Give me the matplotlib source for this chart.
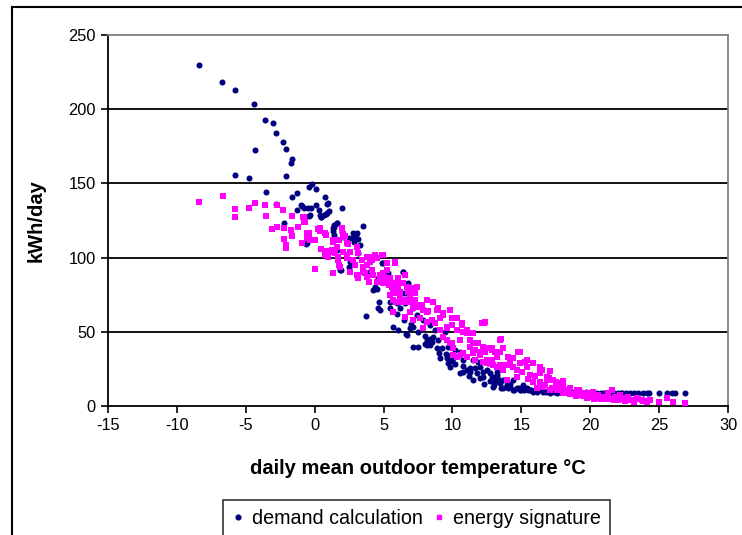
import matplotlib
matplotlib.use("Agg")
import matplotlib.pyplot as plt
from matplotlib.lines import Line2D

plt.rcParams['font.family'] = ['Liberation Sans', 'DejaVu Sans']
plt.rcParams['axes.unicode_minus'] = False

# ---------------- data ----------------
# demand calculation: daily mean outdoor temperature (°C), kWh/day
demand_temp = [
    -8.4, -6.7, -5.8, -4.4, -3.6, -3.05, -2.8, -2.3, -2.1, -4.3, -1.65, -1.75,
    -5.8, -4.8, -2.1, -0.2, -0.4, 0.07, -3.5, -1.26, -1.65, 0.73, 0.91, -0.97,
    -2.8, -0.78, -0.51, -0.27, 0.07, -1.26, 0.33, 1.04, 0.84, -0.39, 0.44,
    -2.23, 1.4, -0.61, 1.4,
    1.96, -0.9, 0.87, 0.46, 0.7, 1.64, 1.42, 1.35, 1.3, 3.53, 1.96, 2.08, 2.8,
    3.0, 2.7, 2.5, 3.16, 2.87, 3.12, 1.89, 2.68, 2.51, 3.48, 3.77, 4.0, 4.6,
    4.93, 4.37, 4.5, 4.25, 5.03, 5.46, 5.7, 6.43, 6.75, 6.92, 6.55, 6.19, 4.69,
    4.62, 3.7, 1.59, 3.05, 0.99, 0.38, -0.34, 2.08, 2.92, 3.29, -0.58, 1.59,
    2.56, 1.84,
    4.86, 5.34, 6.43, 6.8, 6.31, 6.8, 5.95, 6.55, 5.46, 4.74, 6.19, 7.16, 7.4,
    7.88, 8.37, 8.73, 9.46, 5.71, 6.07, 6.63, 6.92, 7.16, 8.13, 8.37, 8.61,
    7.16, 7.52, 8.13, 8.37, 9.21, 9.7, 10.18, 8.97, 9.09, 9.58, 9.94, 10.55,
    10.79, 9.82, 10.55, 10.79, 9.58, 9.7, 8.85, 8.0, 5.83, 6.67,
    10.54, 11.03, 11.27, 11.51, 11.87, 11.63, 11.51, 11.99, 12.24, 12.48, 12.84,
    12.96, 13.08, 13.45, 13.69, 13.93, 14.17, 14.41, 14.66, 14.9, 15.14, 15.38,
    15.62, 16.11, 16.59, 17.08, 17.56, 12.6, 13.2, 11.27, 11.99, 12.24, 12.72,
    12.96, 13.2, 13.69, 14.41, 15.87,
    16.3, 16.8, 17.3, 17.8, 18.1, 18.4, 18.7, 19.0, 19.3, 19.6, 19.9, 20.2,
    20.5, 20.8, 21.1, 21.4, 21.7, 22.0, 22.3, 22.6, 22.9, 23.2, 23.5, 23.8,
    24.1, 24.3, 14.0, 14.8, 15.5, 16.0, 16.9, 17.6, 18.2, 18.9,
    24.98, 25.59, 25.9, 26.15, 26.87,
    5.5, 6.0, 6.5, 7.0, 7.5, 8.0, 8.5, 9.0, 9.5, 10.0,
    10.2, 10.8, 11.2, 11.8, 12.3, 12.7, 13.0, 13.5, 14.0, 14.5, 15.0, 14.2, 13.3,
    15.2, 15.7, 16.3, 17.0, 17.4, 18.0, 18.6, 19.2, 19.7, 20.3, 21.0, 21.6, 22.2,
]
demand_kwh = [
    229.8, 218.3, 213.0, 203.3, 192.7, 190.9, 183.8, 177.7, 173.2, 172.5, 166.4,
    163.5, 155.9, 153.8, 154.8, 149.8, 147.8, 146.0, 144.4, 143.7, 140.6, 140.6,
    136.1, 135.4, 136.1, 133.6, 133.6, 133.6, 135.4, 132.1, 131.9, 131.6, 129.2,
    128.2, 127.4, 123.1, 120.8, 109.0, 115.2,
    133.6, 134.5, 130.3, 127.6, 128.7, 123.1, 121.8, 119.7, 118.1, 121.3, 117.5,
    115.9, 116.8, 115.9, 113.0, 113.0, 112.3, 110.7, 102.9, 91.6, 96.6, 93.5,
    91.6, 89.8, 90.1, 86.0, 96.6, 80.4, 78.6, 78.2, 86.0, 84.9, 82.2, 90.5,
    80.4, 77.0, 75.9, 72.6, 70.3, 65.8, 60.6, 123.1, 116.3, 136.6, 128.7, 128.7,
    114.1, 112.9, 108.5, 109.6, 105.1, 97.2, 91.6,
    96.1, 89.4, 90.5, 82.7, 75.9, 71.4, 69.2, 69.2, 65.8, 64.7, 65.8, 65.8, 61.3,
    58.0, 54.6, 51.2, 50.1, 53.0, 51.2, 48.5, 52.3, 53.0, 44.5, 44.9, 46.7,
    40.0, 40.0, 41.1, 41.1, 38.9, 40.0, 37.7, 44.5, 32.1, 34.4, 31.0, 36.6,
    31.0, 26.5, 22.0, 23.1, 32.1, 28.7, 38.9, 41.8, 79.3, 47.8,
    34.4, 24.3, 23.1, 31.0, 29.9, 25.4, 17.5, 18.6, 19.8, 24.3, 19.8, 13.0,
    16.4, 15.3, 17.5, 14.2, 13.0, 17.5, 11.9, 10.8, 14.2, 11.9, 10.8, 9.7, 9.7,
    9.0, 8.5, 28.8, 20.9, 25.4, 26.5, 23.1, 22.0, 19.8, 23.1, 11.9, 10.8, 9.7,
    10.5, 9.5, 10.0, 9.2, 9.8, 9.0, 9.5, 8.8, 9.2, 8.6, 9.0, 8.6, 8.8, 8.5, 8.8,
    8.5, 8.7, 8.5, 8.6, 8.5, 8.6, 8.5, 8.5, 8.5, 8.5, 8.5, 12.5, 12.0, 11.0,
    10.8, 10.2, 9.6, 9.4, 9.2,
    8.5, 8.5, 8.5, 8.5, 8.5,
    70.0, 62.0, 58.0, 55.0, 50.0, 47.0, 43.0, 36.0, 35.0, 30.0,
    28.0, 27.0, 20.0, 22.0, 15.0, 17.0, 14.0, 12.0, 12.0, 11.0, 10.5, 15.0, 18.0,
    11.0, 10.5, 11.0, 10.5, 9.5, 10.0, 9.5, 9.5, 9.2, 9.0, 8.8, 8.8, 8.6,
]

# energy signature: daily mean outdoor temperature (°C), kWh/day
signature_temp = [
    -8.37, -6.68, -5.81, -5.81, -4.75, -4.35, -3.63, -3.53, -2.76, -2.3, -1.63,
    -3.08, -2.76, -2.21, -1.72, -1.23, -0.78, -0.78, -2.21, -1.63, -2.1, -2.1,
    -0.94, -0.41, -0.41, -0.54, -0.15, 0.0, 0.36, 0.36, 0.84, 0.46, 0.87, 1.23,
    1.35, 1.96, 2.08, 2.2, 1.78, 0.75, 0.99, 1.47, 1.71, 2.08, 2.37, 2.39, 3.05,
    2.32, 0.02, 1.3, 1.78, 1.71, 2.8, 2.92, 2.56, 3.16, 3.41, 3.48, 3.77, 4.14,
    4.01, 4.54, 3.65, 4.25, 3.96, 4.74, 4.98, 5.42, 5.71, 6.72, 6.19, 7.16,
    4.93, 5.27, 5.83, 4.98, 5.03, 5.46, 6.07, 6.55, 5.59, 6.07, 6.43, 7.04, 7.28,
    6.8, 6.19, 5.83, 5.46, 5.9, 6.31, 6.55, 6.92, 7.4, 7.52, 7.76, 8.13, 8.61,
    7.16, 7.88, 6.92, 8.25, 8.97, 9.33, 9.82, 9.94, 5.66, 6.55, 7.16, 7.64, 7.88,
    8.13, 8.49, 8.73, 9.09, 9.58, 9.94, 10.3, 9.58, 9.94, 10.06, 10.3,
    10.66, 10.79, 11.03, 11.27, 11.51, 11.87, 11.63, 11.99, 12.29, 12.36, 12.6,
    12.84, 13.08, 13.2, 13.49, 11.63, 12.24, 12.84, 12.96, 13.45, 13.69, 13.93,
    14.17, 14.41, 14.78, 14.9, 15.26, 14.66, 15.02, 15.38, 15.62, 16.35, 17.08,
    15.87, 16.35, 16.83, 17.32, 17.8, 16.11, 16.59, 17.08, 17.56, 18.04, 18.28,
    18.53, 19.01, 19.25, 19.74, 20.1, 20.46, 20.7, 10.55, 10.79, 11.03, 11.99,
    12.48, 13.57,
    20.22, 20.58, 20.95, 21.31, 21.55, 21.79, 22.15, 22.4, 22.76, 23.0, 23.36,
    23.73, 24.09, 24.33, 18.5, 19.0, 19.5, 19.8, 20.3, 21.0, 21.5, 22.0, 22.5,
    23.2, 23.8, 24.98, 25.59, 26.0, 26.87,
    -0.83, -0.70, -0.58, -0.34, 0.26, 0.75, 0.87, 1.23, 1.35, 1.59, 2.08, 2.32,
    2.56, 3.05, 3.17, 3.41, 3.77, 4.01, 4.38, 4.86, 5.22, 5.83, 1.30, 1.84,
    2.56, 3.05, 3.53, 3.77, 4.13, 4.50, 4.74, 5.22, 5.34, 5.59, 5.95, 6.07,
    6.43, 6.92, 7.28, 7.40, 5.71, 6.19, 6.67, 7.28, 7.64, 8.13, 8.61, 8.85,
    8.13, 9.33, 9.82, 10.3, 10.67, 11.03, 11.51, 12.12, 12.36, 13.45, 11.75,
    12.24, 12.84, 13.45, 13.69, 14.05, 14.41, 14.9, 15.38, 15.87, 16.35, 16.83,
    11.51, 12.48, 13.2, 13.69, 14.66, 13.93, 14.9, 9.82, 10.06, 10.54, 11.03,
    11.27, 9.33, 9.09, 9.58,
    15.5, 16.0, 16.7, 17.2, 17.6, 18.0, 18.3, 18.8, 19.3, 19.6, 20.0, 20.4,
    20.8, 21.2, 21.7, 22.3, 22.8, 23.5, 24.0, 16.5, 17.0, 17.5, 18.0, 18.5, 19.2,
]
signature_kwh = [
    137.5, 141.7, 132.7, 127.4, 133.6, 136.6, 135.2, 128.2, 135.4, 131.9, 128.2,
    119.5, 120.4, 119.9, 118.6, 120.4, 127.4, 124.2, 112.5, 114.3, 108.7, 106.3,
    109.8, 116.4, 113.4, 113.4, 111.7, 111.7, 119.7, 117.9, 115.2, 105.8, 104.4,
    104.0, 111.9, 119.7, 115.9, 114.6, 111.9, 101.8, 100.6, 102.9, 100.6, 104.0,
    101.8, 109.0, 106.9, 99.5, 92.1, 89.4, 95.0, 98.4, 98.4, 95.0, 90.5, 86.0,
    98.4, 93.9, 95.0, 98.4, 100.6, 99.5, 89.4, 88.3, 83.8, 88.3, 82.7, 81.5,
    78.2, 80.4, 72.6, 70.3,
    101.8, 96.1, 96.6, 89.4, 87.1, 86.0, 86.0, 88.3, 82.7, 80.4, 82.7, 79.3,
    76.4, 77.0, 77.0, 75.9, 74.8, 70.3, 70.3, 71.4, 72.6, 68.1, 67.0, 68.1,
    71.4, 70.3, 65.8, 64.7, 63.6, 64.2, 65.8, 61.3, 64.7, 59.1, 63.6, 60.2,
    58.0, 59.1, 52.3, 56.8, 58.0, 55.7, 59.1, 52.3, 54.6, 51.2, 44.5, 42.2,
    34.4, 33.2,
    55.7, 50.1, 49.0, 44.5, 42.2, 42.2, 37.7, 36.6, 56.2, 36.6, 38.9, 37.7, 36.6,
    33.2, 44.9, 31.0, 29.9, 31.0, 27.6, 27.6, 25.4, 27.6, 28.8, 26.5, 36.6,
    36.6, 29.9, 24.3, 23.1, 26.5, 20.9, 22.0, 23.8, 16.4, 16.4, 17.5, 17.5,
    15.3, 11.9, 13.0, 10.8, 14.2, 8.5, 10.8, 9.7, 10.8, 7.4, 8.5, 7.4, 7.4, 6.3,
    44.5, 35.5, 33.2, 34.4, 31.0, 27.6,
    9.6, 7.4, 6.3, 8.5, 10.8, 6.3, 7.4, 5.2, 6.3, 4.0, 5.2, 4.0, 2.9, 4.0, 8.0,
    7.0, 6.5, 5.5, 5.0, 4.5, 5.0, 4.0, 3.5, 3.0, 3.5, 2.9, 5.2, 2.9, 2.3,
    127.6, 124.2, 116.3, 111.8, 119.0, 116.3, 102.9, 105.1, 110.7, 107.4, 114.1,
    109.6, 104.0, 107.4, 102.9, 98.4, 100.6, 97.2, 101.7, 101.7, 96.1, 97.2,
    89.8, 93.9, 90.5, 88.3, 90.5, 87.1, 91.6, 83.8, 86.0, 91.6, 83.8, 80.4,
    78.2, 83.8, 82.6, 77.0, 76.4, 80.4, 71.4, 71.4, 70.3, 71.4, 66.9, 71.4,
    70.3, 64.7, 63.6, 62.4, 64.7, 59.1, 54.6, 51.2, 49.0, 55.7, 56.8, 44.5,
    42.2, 40.0, 38.8, 36.6, 38.8, 33.2, 32.1, 36.6, 31.0, 28.7, 26.5, 19.7,
    35.5, 28.7, 26.5, 24.2, 19.7, 17.5, 28.7, 42.2, 38.8, 34.4, 33.2, 40.0,
    46.7, 51.2, 53.4,
    18.0, 20.0, 14.0, 12.0, 11.0, 13.0, 9.0, 8.0, 9.0, 7.0, 6.0, 5.5, 5.0, 4.5,
    4.0, 5.0, 4.0, 4.5, 3.5, 24.0, 19.0, 16.0, 17.0, 12.0, 11.0,
]

x_ticks = [-15, -10, -5, 0, 5, 10, 15, 20, 25, 30]
y_ticks = [0, 50, 100, 150, 200, 250]

# ---------------- figure ----------------
W, H = 742, 535
fig = plt.figure(figsize=(W / 100, H / 100), dpi=100)
ax = fig.add_axes([108 / W, 1 - 406 / H, (728 - 108) / W, (406 - 35) / H])

ax.scatter(demand_temp, demand_kwh, s=19, marker='o', color='#000080',
           linewidths=0, zorder=3, label='demand calculation')
ax.scatter(signature_temp, signature_kwh, s=18, marker='s', color='#FF00FF',
           linewidths=0, zorder=4, label='energy signature')

ax.set_xlim(-15, 30)
ax.set_ylim(0, 250)
ax.set_xticks(x_ticks)
ax.set_yticks(y_ticks)
ax.tick_params(axis='both', direction='out', length=5, width=1.2,
               labelsize=11.8, colors='black', pad=4)

for y in [50, 100, 150, 200]:
    ax.axhline(y, color='black', linewidth=1.3, zorder=1)

for side in ['top', 'right']:
    ax.spines[side].set_color('#808080')
    ax.spines[side].set_linewidth(1.3)
for side in ['left', 'bottom']:
    ax.spines[side].set_color('black')
    ax.spines[side].set_linewidth(1.3)

ax.set_xlabel('daily mean outdoor temperature °C', fontsize=14.5,
              fontweight='bold', labelpad=18)
ax.set_ylabel('kWh/day', fontsize=14.5, fontweight='bold', labelpad=16)

handles = [
    Line2D([], [], marker='o', linestyle='none', color='#000080', markersize=3.4),
    Line2D([], [], marker='s', linestyle='none', color='#FF00FF', markersize=3.4),
]
leg = fig.legend(handles, ['demand calculation', 'energy signature'],
                 loc='upper center', bbox_to_anchor=(416.5 / W, 1 - 500 / H),
                 ncol=2, frameon=True, fancybox=False, fontsize=14.2,
                 handlelength=0.6, handletextpad=0.4, columnspacing=0.55,
                 borderpad=0.45, borderaxespad=0)
leg.get_frame().set_edgecolor('black')
leg.get_frame().set_linewidth(1.2)

# outer chart frame (cropped at right and bottom in the reference)
fig.add_artist(Line2D([12 / W, 1.0], [1 - 6.5 / H, 1 - 6.5 / H],
                      color='black', linewidth=1.5, transform=fig.transFigure))
fig.add_artist(Line2D([12.5 / W, 12.5 / W], [0.0, 1 - 6.5 / H],
                      color='black', linewidth=1.5, transform=fig.transFigure))

fig.savefig('out.png', dpi=100)
